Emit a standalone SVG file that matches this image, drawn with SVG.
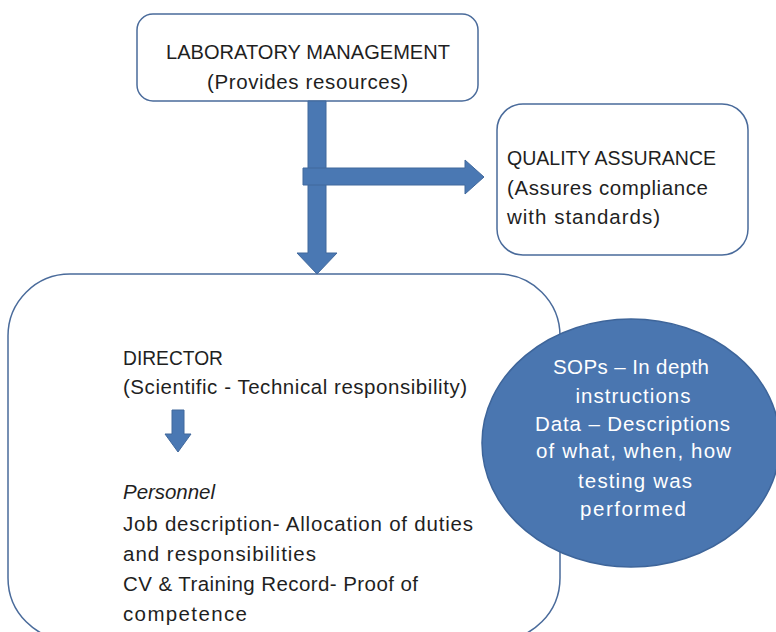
<svg xmlns="http://www.w3.org/2000/svg" width="776" height="632" viewBox="0 0 776 632">
<style>
.box{fill:#fff;stroke:#4a6b9b;stroke-width:1.5}
.arr{fill:#4a78b3;stroke:#41689c;stroke-width:1}
.t{font-family:"Liberation Sans",Arial,sans-serif;font-size:20.5px;fill:#1f1f1f}
.w{font-family:"Liberation Sans",Arial,sans-serif;font-size:20.5px;fill:#fff;text-anchor:middle}
</style>
<rect width="776" height="632" fill="#fff"/>
<g id="director">
<rect class="box" x="8" y="274" width="552" height="366" rx="62" ry="62"/>
<text class="t" x="123" y="365" textLength="100" lengthAdjust="spacingAndGlyphs">DIRECTOR</text>
<text class="t" x="123" y="394" textLength="344">(Scientific - Technical responsibility)</text>
<text class="t" x="123" y="499" font-style="italic" textLength="92">Personnel</text>
<text class="t" x="123" y="531" textLength="350">Job description- Allocation of duties</text>
<text class="t" x="123" y="561" textLength="193">and responsibilities</text>
<text class="t" x="123" y="591" textLength="295">CV &amp; Training Record- Proof of</text>
<text class="t" x="123" y="621" textLength="124">competence</text>
</g>
<g id="management">
<rect class="box" x="137" y="14" width="341" height="87" rx="16" ry="16"/>
<text class="t" x="166" y="59" textLength="284" lengthAdjust="spacingAndGlyphs">LABORATORY MANAGEMENT</text>
<text class="t" x="207" y="89" textLength="201">(Provides resources)</text>
</g>
<g id="qa">
<rect class="box" x="497" y="104" width="251" height="151" rx="26" ry="26"/>
<text class="t" x="507" y="165" textLength="209" lengthAdjust="spacingAndGlyphs">QUALITY ASSURANCE</text>
<text class="t" x="507" y="195" textLength="201">(Assures compliance</text>
<text class="t" x="507" y="224" textLength="153">with standards)</text>
</g>
<g id="sops">
<ellipse cx="631" cy="443" rx="149" ry="124" fill="#4a76b0" stroke="#3e659a" stroke-width="1.5"/>
<text class="w" x="631" y="374" textLength="156">SOPs – In depth</text>
<text class="w" x="633" y="403" textLength="115">instructions</text>
<text class="w" x="632.5" y="431" textLength="195">Data – Descriptions</text>
<text class="w" x="633.5" y="458" textLength="195">of what, when, how</text>
<text class="w" x="635" y="488" textLength="114">testing was</text>
<text class="w" x="633" y="516" textLength="106">performed</text>
</g>
<g id="connectors">
<path class="arr" d="M308,101 H326 V253 H337 L317,274 L297,253 H308 Z"/>
<path class="arr" d="M303,168 H465 V160 L484,177 L465,194 V185 H303 Z"/>
<path class="arr" d="M172,410 H184 V434 H191 L178,452 L165,434 H172 Z"/>
</g>
</svg>
